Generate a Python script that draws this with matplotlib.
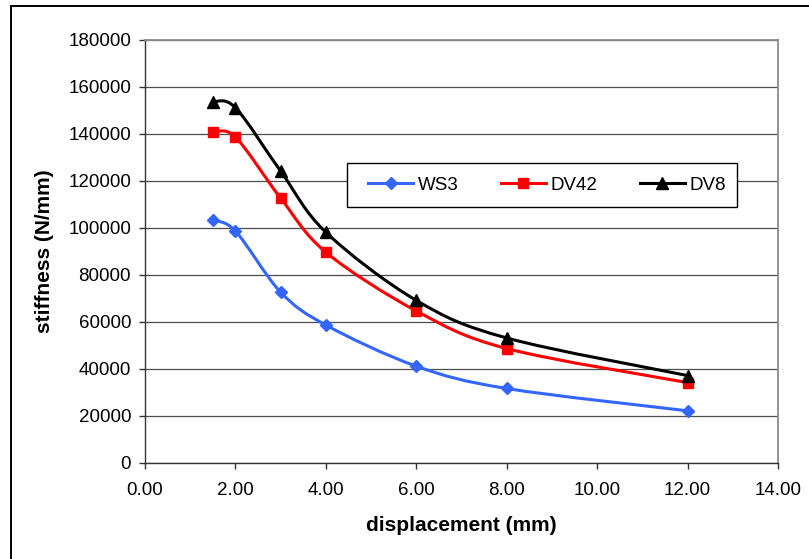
import matplotlib.pyplot as plt
import numpy as np
from matplotlib.path import Path
from matplotlib.patches import PathPatch, Rectangle
from matplotlib.lines import Line2D

# ----- Data ----- #
displacement = [1.5, 2.0, 3.0, 4.0, 6.0, 8.0, 12.0]
ws3 = [103000, 98500, 72500, 58500, 41000, 31500, 22000]
dv42 = [140500, 138500, 112500, 89500, 64500, 48500, 34000]
dv8 = [153500, 151000, 124000, 98000, 69000, 53000, 37000]

series_names = ["WS3", "DV42", "DV8"]
x_ticks = [0, 2, 4, 6, 8, 10, 12, 14]
y_ticks = [0, 20000, 40000, 60000, 80000, 100000, 120000, 140000, 160000, 180000]


def smooth_path(x, y):
    # Excel style smoothed line: cubic bezier segments through the points
    pts = np.column_stack([x, y]).astype(float)
    n = len(pts)
    verts = [pts[0]]
    codes = [Path.MOVETO]
    for i in range(n - 1):
        p0 = pts[i - 1] if i > 0 else pts[i]
        p1 = pts[i]
        p2 = pts[i + 1]
        p3 = pts[i + 2] if i + 2 < n else pts[i + 1]
        c1 = p1 + (p2 - p0) / 6
        c2 = p2 - (p3 - p1) / 6
        verts += [c1, c2, p2]
        codes += [Path.CURVE4] * 3
    return Path(verts, codes)


# ----- Plotting ----- #
plt.rcParams['font.family'] = ['Liberation Sans', 'DejaVu Sans']

W, H = 809, 559
fig = plt.figure(figsize=(W / 100, H / 100), dpi=100)
ax = fig.add_axes([0.1792, 0.1726, 0.7825, 0.7567])

styles = [
    (ws3, "#3366FF", "D", 6),
    (dv42, "#FF0000", "s", 6.5),
    (dv8, "#000000", "^", 8),
]

handles = []
for (vals, col, mk, ms), name in zip(styles, series_names):
    ax.add_patch(PathPatch(smooth_path(displacement, vals), facecolor="none",
                           edgecolor=col, linewidth=2.2, zorder=3))
    ax.plot(displacement, vals, linestyle="none", marker=mk, markersize=ms,
            color=col, zorder=4)
    handles.append(Line2D([], [], color=col, linewidth=2.2, marker=mk,
                          markersize=ms, label=name))

ax.set_xlim(0, 14)
ax.set_ylim(0, 180000)
ax.set_xticks(x_ticks)
ax.set_xticklabels(["%.2f" % t for t in x_ticks])
ax.set_yticks(y_ticks)
ax.set_yticklabels([str(t) for t in y_ticks])
ax.tick_params(axis="both", labelsize=13.5, length=4, width=1, color="#333333", pad=6)
ax.tick_params(axis="x", pad=10)

ax.grid(axis="y", color="#4d4d4d", linewidth=0.9)
ax.set_axisbelow(True)
for side in ["top", "right"]:
    ax.spines[side].set_color("#8c8c8c")
    ax.spines[side].set_linewidth(1.3)
for side in ["left", "bottom"]:
    ax.spines[side].set_color("#333333")
    ax.spines[side].set_linewidth(1.0)

ax.set_xlabel("displacement (mm)", fontsize=15, fontweight="bold", labelpad=12)
ax.set_ylabel("stiffness (N/mm)", fontsize=15, fontweight="bold", labelpad=10)

# legend: entries without frame, box drawn separately
leg = fig.legend(handles=handles, ncol=3, loc="center",
                 bbox_to_anchor=(547 / W, 1 - 185 / H), fontsize=13.5,
                 frameon=False, handlelength=2.4, columnspacing=2.25,
                 handletextpad=0.25)
fig.patches.append(Rectangle((347 / W, 1 - 207 / H), 390 / W, 44 / H,
                             transform=fig.transFigure, facecolor="white",
                             edgecolor="black", linewidth=1.0, zorder=5))
leg.set_zorder(6)

# outer chart frame
fig.patches.append(Rectangle((11 / W, -0.1), 1.0, 1.1 - 6 / H,
                             transform=fig.transFigure, fill=False,
                             edgecolor="black", linewidth=1.4))

fig.savefig("out.png", dpi=100)
